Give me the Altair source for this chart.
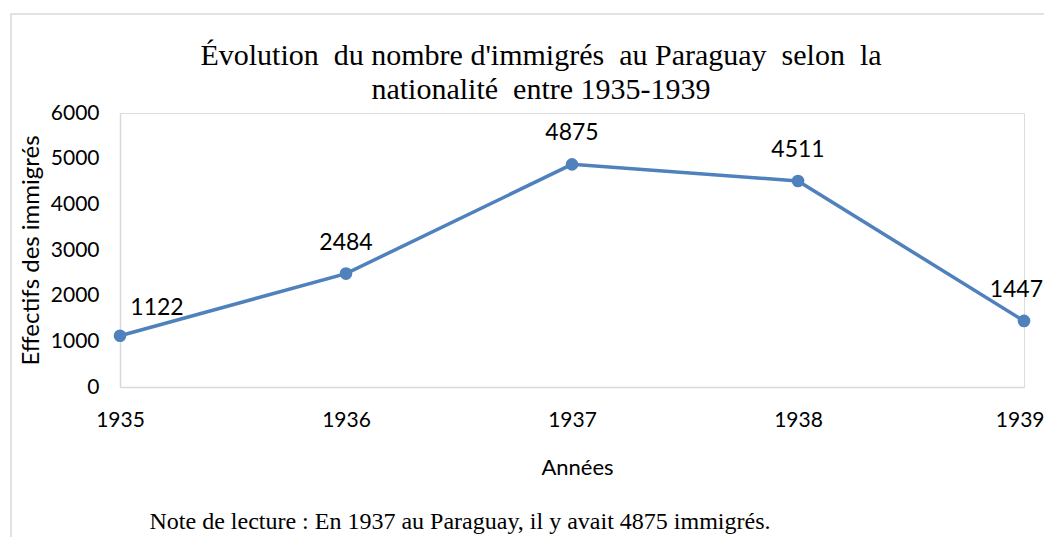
import altair as alt
import pandas as pd

years = ["1935", "1936", "1937", "1938", "1939"]
values = [1122, 2484, 4875, 4511, 1447]
y_ticks = [0, 1000, 2000, 3000, 4000, 5000, 6000]

NB = "\u00a0"
title_lines = [f"Évolution{NB} du nombre d'immigrés{NB} au Paraguay{NB} selon{NB} la",
               f"nationalité{NB} entre 1935-1939"]
note_text = "Note de lecture : En 1937 au Paraguay, il y avait 4875 immigrés."

df = pd.DataFrame({"annee": years, "effectif": values})

W, H = 904, 274
blue = "#4f81bd"
sans = "Lato"
serif = "Liberation Serif"

x_enc = alt.X("annee:O", scale=alt.Scale(padding=0), sort=years,
              axis=alt.Axis(title="Années", labelAngle=0, ticks=False,
                            labelPadding=22, titlePadding=27,
                            labelFontSize=21, titleFontSize=22,
                            labelFont=sans, titleFont=sans,
                            labelColor="#000000", titleColor="#000000",
                            labelAlign=alt.condition(f"datum.value == '{years[-1]}'",
                                                     alt.value("right"), alt.value("center")),
                            labelOffset=alt.condition(f"datum.value == '{years[-1]}'",
                                                      alt.value(20), alt.value(0)),
                            titleFontWeight="normal", titleX=457,
                            domainColor="#d9d9d9", domainWidth=1.5, grid=False))
y_enc = alt.Y("effectif:Q", scale=alt.Scale(domain=[0, 6000], nice=False),
              axis=alt.Axis(title="Effectifs des immigrés", values=y_ticks,
                            format="d",
                            ticks=False, labelPadding=21, titlePadding=7,
                            labelFontSize=21, titleFontSize=24,
                            labelFont=sans, titleFont=sans,
                            labelColor="#000000", titleColor="#000000",
                            titleFontWeight="normal",
                            domainColor="#d9d9d9", domainWidth=1.5, grid=False))

base = alt.Chart(df)

line = base.mark_line(color=blue, strokeWidth=3.5).encode(x=x_enc, y=y_enc)
pts = base.mark_point(color=blue, filled=True, opacity=1, size=160).encode(
    x="annee:O", y="effectif:Q")

labels_first = base.transform_filter(alt.datum.annee == years[0]).mark_text(
    font=sans, fontSize=23, color="#000000", dx=37, dy=-28
).encode(x="annee:O", y="effectif:Q", text="effectif:Q")
labels_mid = base.transform_filter(
    (alt.datum.annee != years[0]) & (alt.datum.annee != years[-1])
).mark_text(
    font=sans, fontSize=23, color="#000000", dy=-31
).encode(x="annee:O", y="effectif:Q", text="effectif:Q")
labels_last = base.transform_filter(alt.datum.annee == years[-1]).mark_text(
    font=sans, fontSize=23, color="#000000", align="right", dx=19, dy=-31
).encode(x="annee:O", y="effectif:Q", text="effectif:Q")

frame = alt.Chart(pd.DataFrame({"k": [0]})).mark_rect(
    fill=None, stroke="#d9d9d9", strokeWidth=1.5, clip=False
).encode(x=alt.value(-109), x2=alt.value(W + 60),
         y=alt.value(-99), y2=alt.value(H + 200))

title1 = alt.Chart(pd.DataFrame({"t": [title_lines[0]]})).mark_text(
    font=serif, fontSize=30, color="#000000", align="center", baseline="alphabetic"
).encode(x=alt.value(421), y=alt.value(-48), text="t:N")
title2 = alt.Chart(pd.DataFrame({"t": [title_lines[1]]})).mark_text(
    font=serif, fontSize=30, color="#000000", align="center", baseline="alphabetic"
).encode(x=alt.value(421), y=alt.value(-14), text="t:N")

note = alt.Chart(pd.DataFrame({"t": [note_text]})).mark_text(
    font=serif, fontSize=24, color="#000000", align="center", baseline="middle"
).encode(x=alt.value(340), y=alt.value(H + 135), text="t:N")

chart = alt.layer(frame, line, pts, labels_first, labels_mid, labels_last,
                  title1, title2, note).properties(
    width=W, height=H,
    padding={"left": 112, "top": 105, "right": 20, "bottom": 150},
    autosize=alt.AutoSizeParams(type="none"),
).configure_view(stroke=None).configure(background="#ffffff")

chart.save("out.html", embed_options={"renderer": "svg", "actions": False})
